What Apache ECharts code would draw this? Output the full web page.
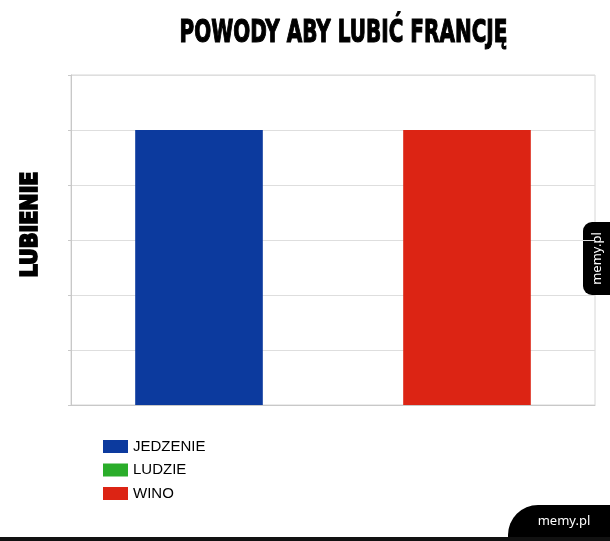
<!DOCTYPE html>
<html>
<head>
<meta charset="utf-8">
<script src="https://cdn.jsdelivr.net/npm/echarts@6/dist/echarts.min.js"></script>
<style>
  html, body { margin: 0; padding: 0; background: #fff; }
  #chart { width: 610px; height: 541px; }
</style>
</head>
<body>
<div id="chart"></div>
<script>
const titleText = 'POWODY ABY LUBIĆ FRANCJĘ';
const yAxisTitle = 'LUBIENIE';
const categories = [''];
const seriesNames = ['JEDZENIE', 'LUDZIE', 'WINO'];
const jedzenieValues = [5];
const ludzieValues = [0];
const winoValues = [5];
const seriesColors = ['#0c3a9e', '#2aad2a', '#dc2414'];
const yMin = 0, yMax = 6, yInterval = 1;

const heavy = '"Liberation Sans Narrow", "DejaVu Sans Condensed", "Arial Narrow", sans-serif';
const chart = echarts.init(document.getElementById('chart'), null, { renderer: 'canvas' });

const valueLists = [jedzenieValues, ludzieValues, winoValues];

chart.setOption({
  backgroundColor: '#ffffff',
  animation: false,
  grid: {
    left: 71, right: 15, top: 75, bottom: 136,
    show: true, borderColor: '#d6d6d6', borderWidth: 1
  },
  legend: {
    orient: 'vertical',
    left: 98, top: 434,
    itemWidth: 25, itemHeight: 13, itemGap: 8.5,
    icon: 'rect',
    selectedMode: false,
    textStyle: { fontFamily: '"Liberation Sans", Arial, sans-serif', fontSize: 15, color: '#000' },
    data: seriesNames
  },
  xAxis: {
    type: 'category',
    data: categories,
    axisLine: { show: true, lineStyle: { color: '#c8c8c8' } },
    axisTick: { show: false },
    axisLabel: { show: false },
    splitLine: { show: false }
  },
  yAxis: {
    type: 'value',
    min: yMin, max: yMax, interval: yInterval,
    name: yAxisTitle,
    nameLocation: 'middle',
    nameRotate: 90,
    nameGap: 28,
    nameTextStyle: {
      fontFamily: heavy, fontWeight: 'bold', fontSize: 23, color: '#000',
      textBorderColor: '#000', textBorderWidth: 1.8,
      padding: [0, 0, 0, 31]
    },
    axisLine: { show: true, lineStyle: { color: '#c8c8c8' } },
    axisTick: { show: true, length: 3, lineStyle: { color: '#c8c8c8' } },
    axisLabel: { show: false },
    splitLine: { show: true, lineStyle: { color: '#dedede' } }
  },
  series: seriesNames.map((name, i) => ({
    name: name,
    type: 'bar',
    data: valueLists[i],
    barGap: '5%',
    barCategoryGap: '24.5%',
    itemStyle: { color: seriesColors[i] }
  })),
  graphic: [
    {
      type: 'text',
      x: 343.5, y: 34,
      scaleX: 0.89, scaleY: 1.3,
      style: {
        text: titleText, x: 0, y: 0,
        align: 'center', verticalAlign: 'middle',
        fontFamily: heavy, fontWeight: 'bold', fontSize: 25,
        fill: '#000', stroke: '#000', lineWidth: 0.9
      }
    },
    {
      type: 'rect',
      shape: { x: 583, y: 222, width: 40, height: 73, r: [9, 0, 0, 9] },
      style: { fill: '#000' }
    },
    {
      type: 'text',
      x: 597, y: 258.5, rotation: Math.PI / 2,
      style: {
        text: 'memy.pl', x: 0, y: 0, align: 'center', verticalAlign: 'middle',
        fontFamily: '"Noto Sans", sans-serif', fontSize: 13, fill: '#fff'
      }
    },
    {
      type: 'rect',
      shape: { x: 508, y: 505, width: 120, height: 40, r: [30, 0, 0, 0] },
      style: { fill: '#000' }
    },
    {
      type: 'text',
      x: 564, y: 521,
      style: {
        text: 'memy.pl', x: 0, y: 0, align: 'center', verticalAlign: 'middle',
        fontFamily: '"Noto Sans", sans-serif', fontSize: 13, fill: '#fff'
      }
    },
    {
      type: 'rect',
      shape: { x: 0, y: 537, width: 610, height: 4 },
      style: { fill: '#111' }
    }
  ]
});
</script>
</body>
</html>
